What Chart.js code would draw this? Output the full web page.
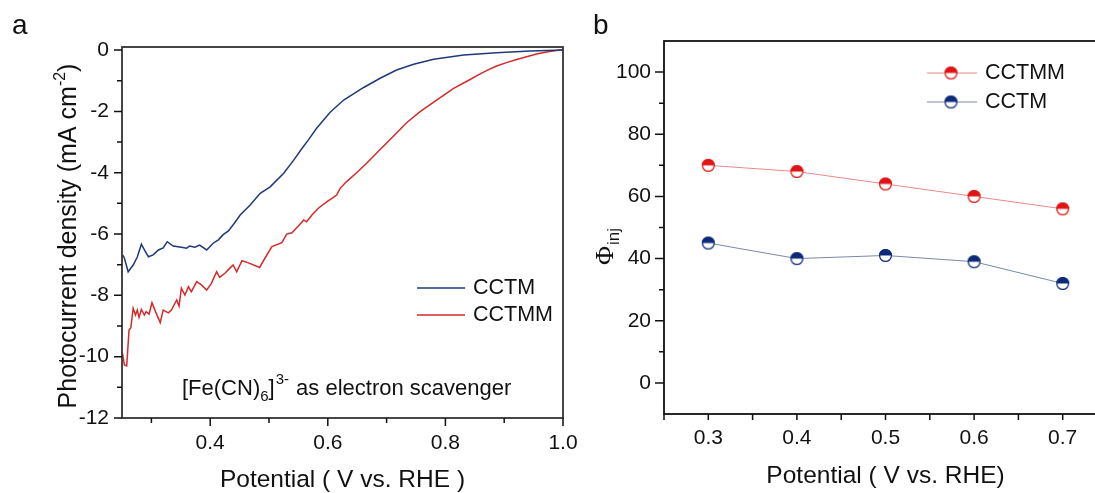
<!DOCTYPE html>
<html>
<head>
<meta charset="utf-8">
<script src="https://cdn.jsdelivr.net/npm/chart.js@4.4.1/dist/chart.umd.min.js"></script>
<style>
  html, body { margin: 0; padding: 0; background: #fff; overflow: hidden; }
  .panel { position: absolute; top: 0; }
</style>
</head>
<body>
<div class="panel" style="left:0;"><canvas id="chartA" width="600" height="493"></canvas></div>
<div class="panel" style="left:580px;"><canvas id="chartB" width="540" height="493"></canvas></div>
<script>
// panel a: photocurrent vs potential
var potA_cctm = [0.251,0.254,0.2605,0.269,0.276,0.283,0.289,0.295,0.303,0.312,0.320,0.327,0.337,0.351,0.360,0.365,0.374,0.382,0.394,0.405,0.414,0.422,0.431,0.441,0.451,0.468,0.485,0.502,0.525,0.542,0.556,0.567,0.581,0.604,0.627,0.661,0.689,0.717,0.746,0.780,0.831,0.887,0.944,1.0];
var jA_cctm = [-6.68,-6.78,-7.23,-7.01,-6.75,-6.33,-6.55,-6.74,-6.68,-6.52,-6.45,-6.25,-6.39,-6.43,-6.46,-6.39,-6.43,-6.36,-6.52,-6.30,-6.19,-6.02,-5.90,-5.65,-5.38,-5.05,-4.67,-4.46,-4.02,-3.59,-3.21,-2.93,-2.55,-2.03,-1.63,-1.22,-0.92,-0.65,-0.46,-0.30,-0.16,-0.09,-0.03,0.0];
var potA_cctmm = [0.251,0.254,0.258,0.262,0.265,0.269,0.273,0.276,0.279,0.283,0.288,0.291,0.296,0.301,0.307,0.315,0.320,0.329,0.334,0.343,0.347,0.351,0.357,0.363,0.368,0.377,0.385,0.394,0.402,0.411,0.416,0.425,0.433,0.439,0.445,0.454,0.465,0.484,0.493,0.505,0.522,0.530,0.539,0.550,0.559,0.564,0.573,0.584,0.598,0.607,0.615,0.621,0.632,0.649,0.666,0.689,0.712,0.734,0.757,0.785,0.814,0.842,0.856,0.870,0.887,0.904,0.921,0.938,0.955,0.972,0.986,1.0];
var jA_cctmm = [-9.9,-10.27,-10.3,-9.13,-9.06,-8.42,-8.64,-8.48,-8.72,-8.46,-8.64,-8.53,-8.61,-8.24,-8.53,-8.89,-8.48,-8.57,-8.48,-8.15,-8.35,-7.77,-7.99,-7.72,-7.88,-7.55,-7.66,-7.83,-7.61,-7.23,-7.41,-7.28,-7.12,-7.01,-7.23,-6.87,-6.94,-7.09,-6.79,-6.41,-6.28,-6.0,-5.96,-5.74,-5.54,-5.60,-5.38,-5.16,-4.95,-4.84,-4.73,-4.51,-4.29,-4.00,-3.69,-3.24,-2.80,-2.37,-2.01,-1.63,-1.25,-0.96,-0.81,-0.67,-0.52,-0.41,-0.31,-0.22,-0.13,-0.06,-0.02,0.02];
var xTicksA = [0.4, 0.6, 0.8, 1.0];
var xMinorA = [0.3, 0.5, 0.7, 0.9];
var yTicksA = [0, -2, -4, -6, -8, -10, -12];
var yMinorA = [-1, -3, -5, -7, -9, -11];

// panel b: injection efficiency
var potB = [0.3, 0.4, 0.5, 0.6, 0.7];
var phiCCTMM = [70, 68, 64, 60, 56];
var phiCCTM = [45, 40, 41, 39, 32];
var phiLbl = ['CCTMM', 'CCTM'];
var xTicksB = [0.3, 0.4, 0.5, 0.6, 0.7];
var xMinorB = [0.25, 0.35, 0.45, 0.55, 0.65, 0.75];
var yTicksB = [0, 20, 40, 60, 80, 100];
var yMinorB = [10, 30, 50, 70, 90];

var FONT = '"Liberation Sans", Arial, sans-serif';
var SERIF = '"Liberation Serif", "Times New Roman", serif';
var BLUE = '#1f3a7a', RED = '#d42a2a';
var MRED = '#e01414', MBLUE = '#0c2a78';

function pts(xs, ys) {
	var out = [];
	for (var i in xs) out.push({x: xs[i], y: ys[i]});
	return out;
}

function halfCircle(color, r) {
	var c = document.createElement('canvas');
	c.width = Math.ceil(2 * r + 4); c.height = c.width;
	var g = c.getContext('2d');
	var cx = c.width / 2, cy = c.height / 2;
	g.beginPath(); g.arc(cx, cy, r, 0, Math.PI * 2); g.fillStyle = '#fff'; g.fill();
	g.beginPath(); g.arc(cx, cy, r, Math.PI, Math.PI * 2); g.closePath(); g.fillStyle = color; g.fill();
	g.beginPath(); g.arc(cx, cy, r - 0.6, 0, Math.PI * 2); g.strokeStyle = color; g.lineWidth = 1.3; g.stroke();
	return c;
}
var markRed = halfCircle(MRED, 6.5);
var markBlue = halfCircle(MBLUE, 6.5);

function fixedTicks(list) {
	return function(scale) { scale.ticks = list.map(function(v){ return {value: v}; }); };
}

// frame + tick marks drawn with the chart's own scales
function drawAxes(chart, o) {
	var ctx = chart.ctx, a = chart.chartArea;
	var xs = chart.scales.x, ys = chart.scales.y;
	ctx.save();
	ctx.strokeStyle = o.frameColor; ctx.lineWidth = 1.8;
	ctx.strokeRect(a.left, a.top, a.right - a.left, a.bottom - a.top);
	ctx.strokeStyle = '#111'; ctx.lineWidth = 1.5;
	ctx.beginPath();
	o.xMaj.forEach(function(v){ var p = xs.getPixelForValue(v); ctx.moveTo(p, a.bottom); ctx.lineTo(p, a.bottom + o.xMajLen); });
	o.xMin.forEach(function(v){ var p = xs.getPixelForValue(v); ctx.moveTo(p, a.bottom); ctx.lineTo(p, a.bottom + o.xMinLen); });
	o.yMaj.forEach(function(v){ var p = ys.getPixelForValue(v); ctx.moveTo(a.left, p); ctx.lineTo(a.left - o.yMajLen, p); });
	o.yMin.forEach(function(v){ var p = ys.getPixelForValue(v); ctx.moveTo(a.left, p); ctx.lineTo(a.left - o.yMinLen, p); });
	ctx.stroke();
	ctx.restore();
}

var decorA = {
	id: 'decorA',
	afterDraw: function(chart) {
		var ctx = chart.ctx, a = chart.chartArea;
		drawAxes(chart, {frameColor: '#333', xMaj: xTicksA, xMin: xMinorA, yMaj: yTicksA, yMin: yMinorA, xMajLen: 8, xMinLen: 5, yMajLen: 8, yMinLen: 5});
		ctx.save();
		ctx.fillStyle = '#111';
		ctx.textBaseline = 'alphabetic';
		// panel letter
		ctx.font = '28px ' + FONT;
		ctx.fillText('a', 12, 34);
		// x title
		ctx.font = '24.5px ' + FONT;
		ctx.textAlign = 'center';
		ctx.fillText('Potential ( V vs. RHE )', (a.left + a.right) / 2, 487);
		// y title with superscript
		ctx.save();
		ctx.translate(76, 236);
		ctx.rotate(-Math.PI / 2);
		ctx.textAlign = 'left';
		var t1 = 'Photocurrent density (mA cm', sup = '-2', t2 = ')';
		ctx.font = '25px ' + FONT; var w1 = ctx.measureText(t1).width, w3 = ctx.measureText(t2).width;
		ctx.font = '16px ' + FONT; var w2 = ctx.measureText(sup).width;
		var x0 = -(w1 + w2 + w3) / 2;
		ctx.font = '25px ' + FONT; ctx.fillText(t1, x0, 0);
		ctx.font = '16px ' + FONT; ctx.fillText(sup, x0 + w1, -11);
		ctx.font = '25px ' + FONT; ctx.fillText(t2, x0 + w1 + w2, 0);
		ctx.restore();
		// annotation
		ctx.textAlign = 'left';
		var x = 182, y = 395;
		ctx.font = '22px ' + FONT; ctx.fillText('[Fe(CN)', x, y); x += ctx.measureText('[Fe(CN)').width;
		ctx.font = '15px ' + FONT; ctx.fillText('6', x, y + 6); x += ctx.measureText('6').width;
		ctx.font = '22px ' + FONT; ctx.fillText(']', x, y); x += ctx.measureText(']').width;
		ctx.font = '15px ' + FONT; ctx.fillText('3-', x + 1, y - 11); x += ctx.measureText('3-').width + 2;
		ctx.font = '22px ' + FONT; ctx.fillText(' as electron scavenger', x, y);
		// legend
		ctx.lineWidth = 1.5;
		ctx.strokeStyle = BLUE; ctx.beginPath(); ctx.moveTo(417, 288); ctx.lineTo(465, 288); ctx.stroke();
		ctx.strokeStyle = RED; ctx.beginPath(); ctx.moveTo(417, 315); ctx.lineTo(465, 315); ctx.stroke();
		ctx.font = '21.5px ' + FONT; ctx.textBaseline = 'middle';
		ctx.fillText('CCTM', 473, 288);
		ctx.fillText('CCTMM', 473, 315);
		ctx.restore();
	}
};

var decorB = {
	id: 'decorB',
	afterDraw: function(chart) {
		var ctx = chart.ctx, a = chart.chartArea;
		drawAxes(chart, {frameColor: '#111', xMaj: xTicksB, xMin: xMinorB, yMaj: yTicksB, yMin: yMinorB, xMajLen: 6, xMinLen: 6, yMajLen: 9, yMinLen: 5});
		ctx.save();
		ctx.fillStyle = '#111';
		ctx.font = '28px ' + FONT;
		ctx.fillText('b', 13, 34);
		ctx.font = '24.5px ' + FONT;
		ctx.textAlign = 'center';
		ctx.fillText('Potential ( V vs. RHE)', (a.left + a.right) / 2, 483);
		// Phi_inj title
		ctx.save();
		ctx.translate(33, 247);
		ctx.rotate(-Math.PI / 2);
		ctx.textAlign = 'left';
		ctx.font = '26px ' + SERIF;
		var wp = ctx.measureText('\u03A6').width;
		ctx.font = '17px ' + FONT;
		var wi = ctx.measureText('inj').width;
		var x0 = -(wp + wi) / 2;
		ctx.font = '26px ' + SERIF;
		ctx.fillText('\u03A6', x0, 0);
		ctx.font = '17px ' + FONT;
		ctx.fillText('inj', x0 + wp + 1, 6);
		ctx.restore();
		// legend
		var rows = [[phiLbl[0], '#e88a8a', markRed, 73], [phiLbl[1], '#7a88aa', markBlue, 102]];
		ctx.textBaseline = 'middle';
		ctx.textAlign = 'left';
		rows.forEach(function(r) {
			ctx.strokeStyle = r[1]; ctx.lineWidth = 1;
			ctx.beginPath(); ctx.moveTo(927 - 580, r[3]); ctx.lineTo(977 - 580, r[3]); ctx.stroke();
			ctx.drawImage(r[2], 951 - 580 - r[2].width / 2, r[3] - r[2].height / 2);
			ctx.font = '21.5px ' + FONT; ctx.fillStyle = '#111';
			ctx.fillText(r[0], 985 - 580, r[3]);
		});
		ctx.restore();
	}
};

var tickFont = {family: FONT, size: 21};

new Chart(document.getElementById('chartA'), {
	type: 'line',
	data: {
		datasets: [
			{label: 'CCTM', data: pts(potA_cctm, jA_cctm), borderColor: BLUE, borderWidth: 1.5, pointRadius: 0, tension: 0, fill: false},
			{label: 'CCTMM', data: pts(potA_cctmm, jA_cctmm), borderColor: RED, borderWidth: 1.5, pointRadius: 0, tension: 0, fill: false}
		]
	},
	options: {
		responsive: false,
		animation: false,
		layout: {padding: {left: 0, top: 47, right: 37, bottom: 0}},
		plugins: {legend: {display: false}, tooltip: {enabled: false}},
		scales: {
			x: {
				type: 'linear', min: 0.25, max: 1.0,
				grid: {display: false}, border: {display: false},
				afterBuildTicks: fixedTicks(xTicksA),
				afterFit: function(s){ s.height = 75; },
				ticks: {font: tickFont, color: '#111', padding: 5, maxRotation: 0, callback: function(v){ return v.toFixed(1); }}
			},
			y: {
				min: -12, max: 0.1,
				grid: {display: false}, border: {display: false},
				afterBuildTicks: fixedTicks(yTicksA),
				afterFit: function(s){ s.width = 122; },
				ticks: {font: tickFont, color: '#111', padding: 5}
			}
		}
	},
	plugins: [decorA]
});

new Chart(document.getElementById('chartB'), {
	type: 'line',
	data: {
		datasets: [
			{label: 'CCTMM', data: pts(potB, phiCCTMM), borderColor: '#e88a8a', borderWidth: 1, pointStyle: markRed, pointRadius: 6.5, tension: 0, fill: false},
			{label: 'CCTM', data: pts(potB, phiCCTM), borderColor: '#7a88aa', borderWidth: 1, pointStyle: markBlue, pointRadius: 6.5, tension: 0, fill: false}
		]
	},
	options: {
		responsive: false,
		animation: false,
		layout: {padding: {left: 0, top: 41, right: 13, bottom: 0}},
		plugins: {legend: {display: false}, tooltip: {enabled: false}},
		scales: {
			x: {
				type: 'linear', min: 0.25, max: 0.75,
				grid: {display: false}, border: {display: false},
				afterBuildTicks: fixedTicks(xTicksB),
				afterFit: function(s){ s.height = 79; },
				ticks: {font: tickFont, color: '#111', padding: 4, maxRotation: 0, callback: function(v){ return v.toFixed(1); }}
			},
			y: {
				min: -10, max: 110,
				grid: {display: false}, border: {display: false},
				afterBuildTicks: fixedTicks(yTicksB),
				afterFit: function(s){ s.width = 84; },
				ticks: {font: tickFont, color: '#111', padding: 5}
			}
		}
	},
	plugins: [decorB]
});
</script>
</body>
</html>
